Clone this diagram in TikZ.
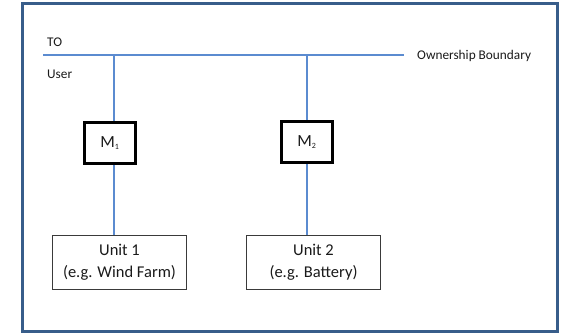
\documentclass[tikz,border=0pt]{standalone}
\usepackage{fontspec}
\setmainfont{Carlito}
\definecolor{framecol}{HTML}{385D8A}
\definecolor{linecol}{HTML}{5B8BD0}
\definecolor{boxcol}{HTML}{3A3A3A}
\definecolor{txtcol}{HTML}{1A1A1A}
\begin{document}
\begin{tikzpicture}[x=1pt,y=-1pt,
  meterbox/.style={draw=black,line width=3.4pt,fill=white,minimum width=51pt,minimum height=41pt,inner sep=0pt,font=\fontsize{17}{20}\selectfont,text=txtcol},
  unitbox/.style={draw=boxcol,line width=1.8pt,fill=white,minimum width=134pt,minimum height=54pt,inner sep=0pt,align=center,font=\fontsize{16.5}{22}\selectfont,text=txtcol},
  lbl/.style={font=\fontsize{13.3}{15}\selectfont,text=txtcol,inner sep=0pt,anchor=west},
  wire/.style={draw=linecol,line width=1.3pt}]
\useasboundingbox (0,0) rectangle (562,334);
\draw[framecol,line width=3pt] (22,4) rectangle (557,331);
% bus
\coordinate (bl) at (43,55);
\coordinate (br) at (404,55);
\coordinate (b1) at (114,55);
\coordinate (b2) at (307,55);
\draw[wire] (bl) -- (br);
\node[lbl] (to) at (47,42) {TO};
\node[lbl] (user) at (47,74) {User};
\node[lbl] (own) at (417,56) {Ownership Boundary};
% meters
\node[meterbox] (M1) at (110,143) {M\textsubscript{\fontsize{8}{9}\selectfont 1}};
\node[meterbox] (M2) at (307,142) {M\textsubscript{\fontsize{8}{9}\selectfont 2}};
% units
\node[unitbox] (U1) at (119.5,262.5) {Unit 1\\(e.g. Wind Farm)};
\node[unitbox] (U2) at (313.5,262.5) {Unit 2\\(e.g. Battery)};
% connectors
\draw[wire] (b1) -- (b1 |- M1.north);
\draw[wire] (b1 |- M1.south) -- (b1 |- U1.north);
\draw[wire] (b2) -- (b2 |- M2.north);
\draw[wire] (b2 |- M2.south) -- (b2 |- U2.north);
\end{tikzpicture}
\end{document}
